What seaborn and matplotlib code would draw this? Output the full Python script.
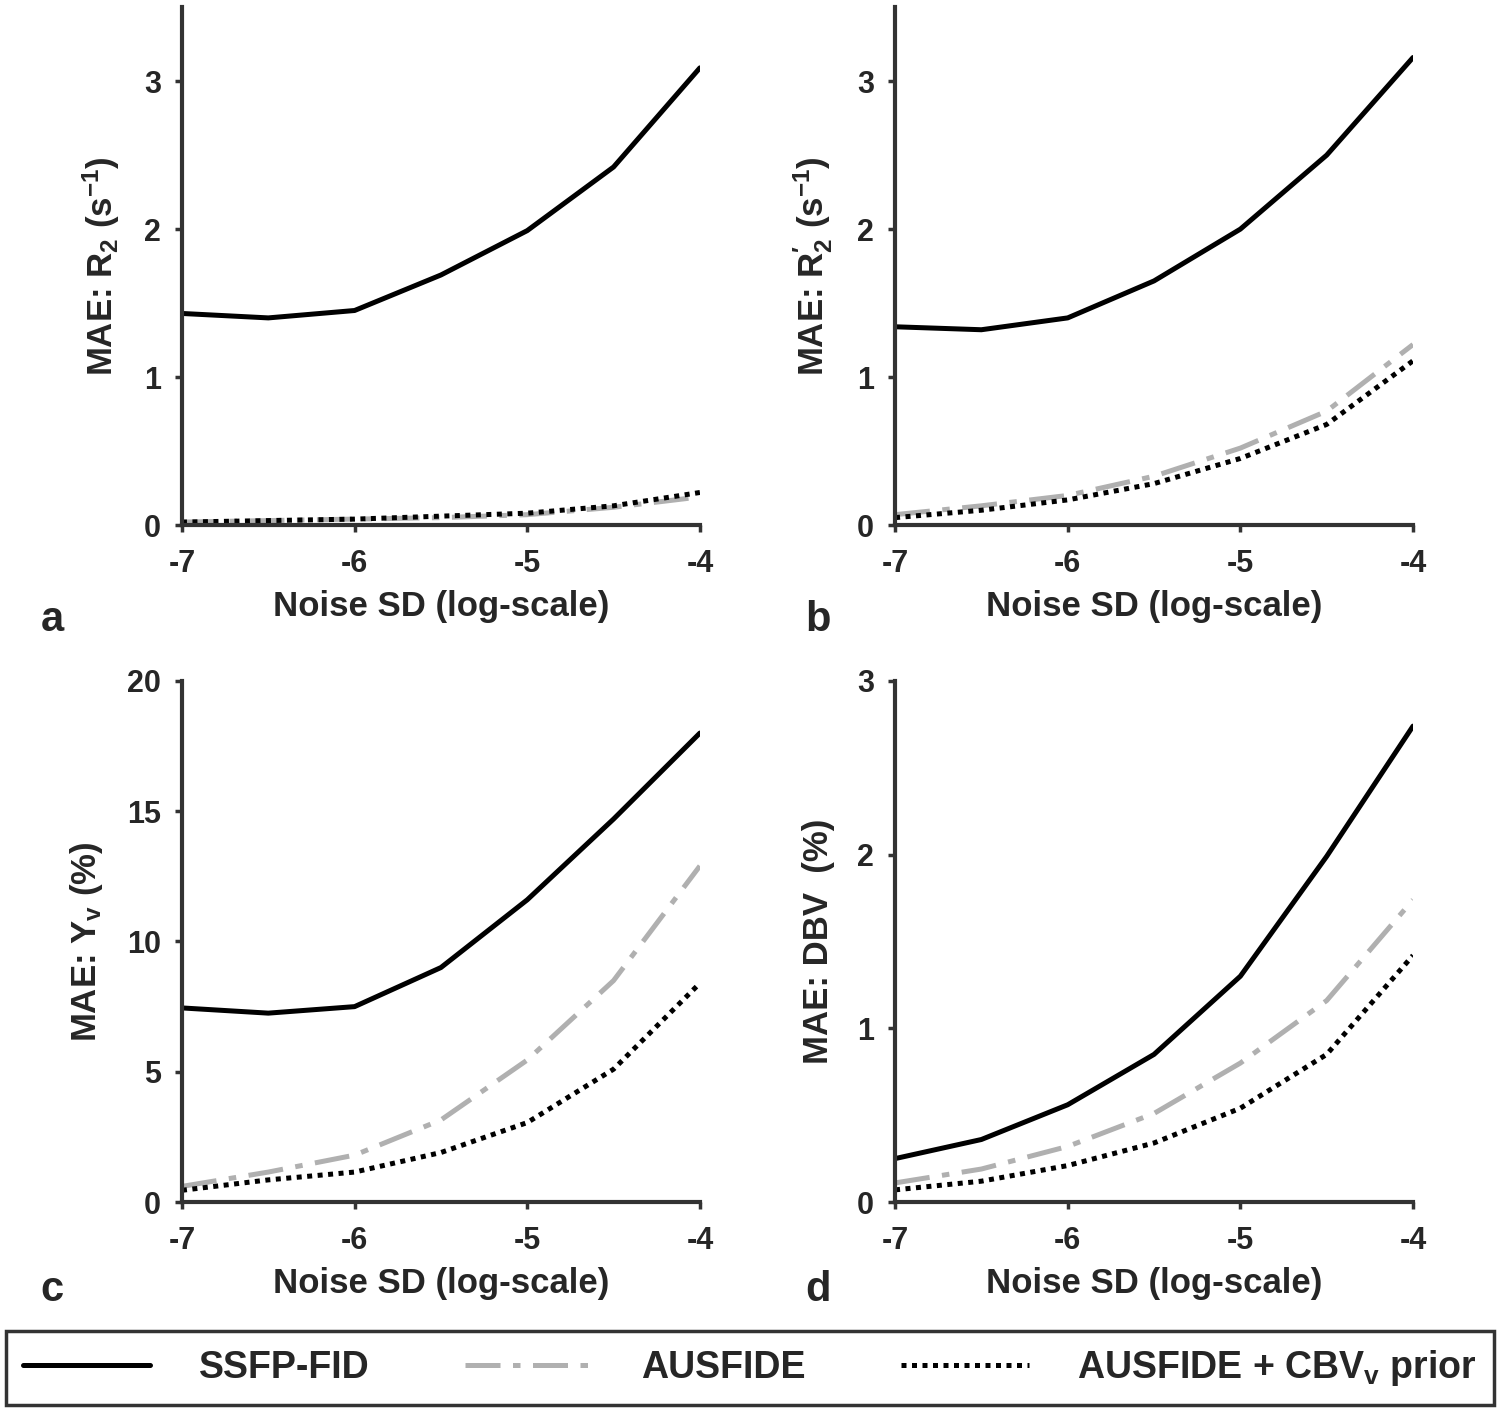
import numpy as np
import pandas as pd
import matplotlib
matplotlib.use("Agg")
import matplotlib.pyplot as plt
import seaborn as sns

# noise SD (log10) sample points
noise_sd = [-7, -6.5, -6, -5.5, -5, -4.5, -4]

# panel a: MAE R2 (s^-1)
r2_ssfp = [1.43, 1.40, 1.45, 1.69, 1.99, 2.42, 3.09]
r2_ausfide = [0.02, 0.03, 0.04, 0.05, 0.07, 0.12, 0.19]
r2_prior = [0.02, 0.03, 0.04, 0.06, 0.08, 0.13, 0.22]

# panel b: MAE R2' (s^-1)
r2p_ssfp = [1.34, 1.32, 1.40, 1.65, 2.00, 2.50, 3.16]
r2p_ausfide = [0.07, 0.13, 0.20, 0.33, 0.52, 0.77, 1.22]
r2p_prior = [0.05, 0.10, 0.17, 0.28, 0.45, 0.68, 1.11]

# panel c: MAE Yv (%)
yv_ssfp = [7.45, 7.25, 7.5, 9.0, 11.6, 14.7, 18.0]
yv_ausfide = [0.6, 1.15, 1.8, 3.15, 5.45, 8.5, 12.9]
yv_prior = [0.45, 0.85, 1.15, 1.9, 3.05, 5.1, 8.4]

# panel d: MAE DBV (%)
dbv_ssfp = [0.25, 0.36, 0.56, 0.85, 1.30, 1.99, 2.74]
dbv_ausfide = [0.11, 0.19, 0.32, 0.51, 0.80, 1.16, 1.74]
dbv_prior = [0.07, 0.12, 0.21, 0.34, 0.54, 0.85, 1.42]

methods = ["SSFP-FID", "AUSFIDE", "AUSFIDE + CBV$_\\mathregular{v}$ prior"]
x_ticks = [-7, -6, -5, -4]

panels = [
    ("a", "MAE: R$_\\mathregular{2}$ (s$^\\mathregular{-1}$)", [r2_ssfp, r2_ausfide, r2_prior], (0, 3.5), [0, 1, 2, 3]),
    ("b", "MAE: R$_\\mathregular{2}^{\\prime}$ (s$^\\mathregular{-1}$)", [r2p_ssfp, r2p_ausfide, r2p_prior], (0, 3.5), [0, 1, 2, 3]),
    ("c", "MAE: Y$_\\mathregular{v}$ (%)", [yv_ssfp, yv_ausfide, yv_prior], (0, 20), [0, 5, 10, 15, 20]),
    ("d", "MAE: DBV  (%)", [dbv_ssfp, dbv_ausfide, dbv_prior], (0, 3), [0, 1, 2, 3]),
]

sns.set_theme(style="white")
plt.rcParams['font.family'] = ['Liberation Sans', 'DejaVu Sans']
plt.rcParams['font.weight'] = 'bold'
plt.rcParams['mathtext.default'] = 'regular'

styles = [
    dict(color="black", dashes=None, lw=3.6),
    dict(color="#b0b0b0", dashes=(7, 2.5, 1.5, 2.5), lw=3.6),
    dict(color="black", dashes=(1, 1.1), lw=3.6),
]

fig = plt.figure(figsize=(15, 14.11), dpi=100)
positions = [
    [0.1213, 0.6279, 0.3453, 0.367],
    [0.5967, 0.6279, 0.3453, 0.367],
    [0.1213, 0.1481, 0.3453, 0.3693],
    [0.5967, 0.1481, 0.3453, 0.3693],
]
label_pos = [(0.027, 0.5606), (0.537, 0.5606), (0.027, 0.0858), (0.537, 0.0858)]

handles = []
for i, (tag, ylabel, series, ylim, yticks) in enumerate(panels):
    ax = fig.add_axes(positions[i])
    for j, vals in enumerate(series):
        df = pd.DataFrame({"noise": noise_sd, "mae": vals})
        st = styles[j]
        sns.lineplot(data=df, x="noise", y="mae", ax=ax, color=st["color"], lw=st["lw"])
        line = ax.get_lines()[-1]
        if st["dashes"] is not None:
            line.set_dashes(st["dashes"])
        if i == 0:
            handles.append(line)
    ax.set_xlim(-7, -4)
    ax.set_ylim(*ylim)
    ax.set_xticks(x_ticks)
    ax.set_xticklabels([str(t) for t in x_ticks])
    ax.set_yticks(yticks)
    ax.set_xlabel("Noise SD (log-scale)", fontsize=25, fontweight="bold", labelpad=8)
    ax.set_ylabel(ylabel, fontsize=25, fontweight="bold", labelpad=16)
    ax.tick_params(axis="both", labelsize=22, length=5, width=2.5, color="#333333",
                   direction="out", bottom=True, left=True)
    ax.tick_params(axis="x", pad=12)
    ax.tick_params(axis="y", pad=10)
    for lab in ax.get_xticklabels() + ax.get_yticklabels():
        lab.set_fontweight("bold")
    sns.despine(ax=ax)
    for s in ["left", "bottom"]:
        ax.spines[s].set_linewidth(3)
        ax.spines[s].set_color("#333333")
    fig.text(label_pos[i][0], label_pos[i][1], tag, fontsize=30, fontweight="bold", ha="left", va="center")

leg = fig.legend(handles, methods, loc="lower left", bbox_to_anchor=(0.004, 0.0045, 0.992, 0.056),
                 mode="expand", ncol=3, frameon=True, fancybox=False, edgecolor="black",
                 handlelength=3.4, handletextpad=1.3, columnspacing=2.5, borderpad=0.45,
                 borderaxespad=0, prop={"weight": "bold", "size": 27})
leg.get_frame().set_linewidth(2.5)

fig.savefig("out.png", dpi=100)
